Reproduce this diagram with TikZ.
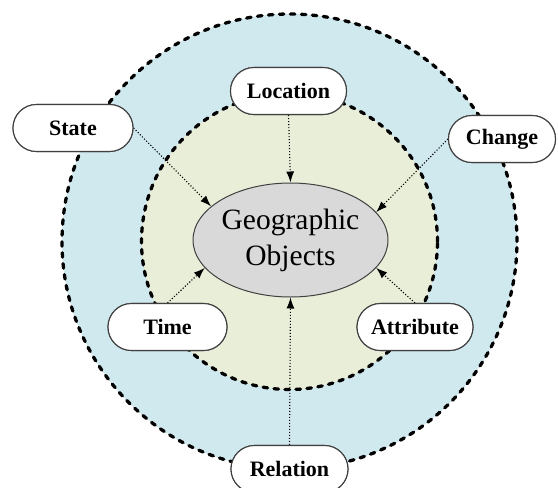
\documentclass[tikz,border=0pt]{standalone}
\usepackage{fontspec}
\setmainfont{Liberation Serif}
\usetikzlibrary{arrows.meta,shapes.geometric}
\definecolor{outerblue}{RGB}{207,233,239}
\definecolor{innerolive}{RGB}{233,238,217}
\definecolor{coregray}{RGB}{217,217,217}
\definecolor{edgegray}{RGB}{64,64,64}
\tikzset{
  ring/.style={line width=3.3pt, line cap=round, dash pattern=on 4.5pt off 6.5pt},
  tag/.style={draw=edgegray, line width=1.1pt, fill=white, rounded corners=23.5pt,
    minimum height=47pt, inner sep=0pt, font=\fontsize{22}{26}\selectfont\bfseries},
  core/.style={ellipse, draw=edgegray, line width=1pt, fill=coregray,
    minimum width=195pt, minimum height=114pt, inner sep=0pt, align=center,
    font=\fontsize{29.5}{36}\selectfont},
  link/.style={line width=1.1pt, dash pattern=on 1.1pt off 1.9pt,
    -{Latex[length=11pt,width=8pt]}}
}
\begin{document}
\begin{tikzpicture}[x=1pt,y=-1pt]
\useasboundingbox (0,0) rectangle (558,488);
% concentric rings
\fill[outerblue] (289.5,241.5) circle[radius=227.5pt];
\draw[ring] (289.5,241.5) circle[radius=227.5pt];
\fill[innerolive] (289.5,241.5) circle[radius=148pt];
\draw[ring] (289.5,241.5) circle[radius=148pt];
% centre
\node[core] (geo) at (290.5,240) {Geographic\\Objects};
% surrounding labels
\node[tag, minimum width=116pt] (loc) at (288.5,91) {Location};
\node[tag, minimum width=120pt] (state) at (73,128) {State};
\node[tag, minimum width=107pt] (chg) at (502,139) {Change};
\node[tag, minimum width=119pt] (time) at (167.5,327) {Time};
\node[tag, minimum width=116pt] (attr) at (415,327) {Attribute};
\node[tag, minimum width=117pt] (rel) at (289.5,469) {Relation};
% connectors
\draw[link] (loc.south) -- (geo.north);
\draw[link] (state.east) -- (geo.157);
\draw[link] (chg.west) -- (geo.18);
\draw[link] (time.north) -- (geo.198);
\draw[link] (attr.north) -- (geo.342);
\draw[link] (rel.north) -- (geo.south);
% redraw labels above the connectors
\node[tag, minimum width=116pt] at (loc) {Location};
\node[tag, minimum width=120pt] at (state) {State};
\node[tag, minimum width=107pt] at (chg) {Change};
\node[tag, minimum width=119pt] at (time) {Time};
\node[tag, minimum width=116pt] at (attr) {Attribute};
\node[tag, minimum width=117pt] at (rel) {Relation};
\end{tikzpicture}
\end{document}
